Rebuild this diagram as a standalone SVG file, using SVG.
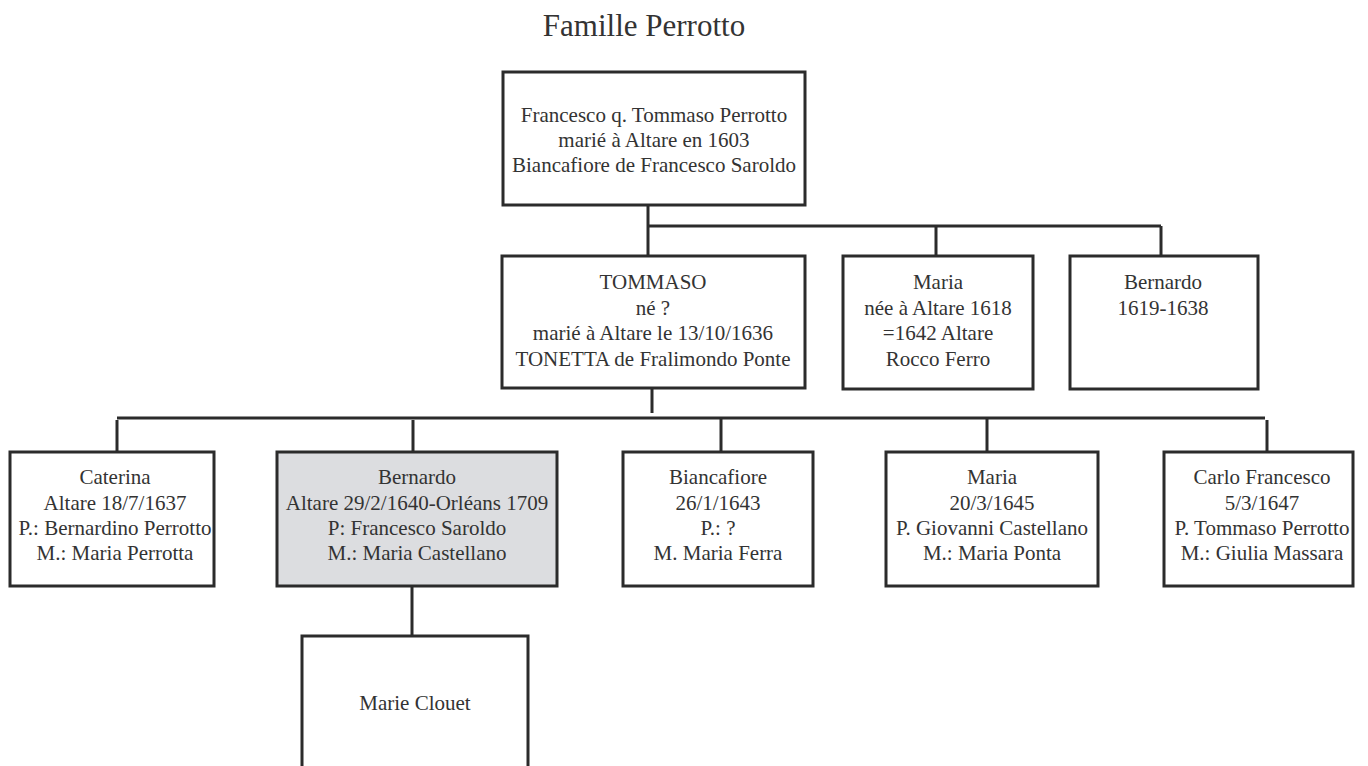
<svg xmlns="http://www.w3.org/2000/svg" width="1368" height="766" viewBox="0 0 1368 766">
<style>
.box{fill:#ffffff;stroke:#2b2b2b;stroke-width:3}
.hl{fill:#dcdde0}
.t{font-family:"Liberation Serif","Times New Roman",serif;font-size:21px;fill:#333333;text-anchor:middle}
.title{font-family:"Liberation Serif","Times New Roman",serif;font-size:31px;fill:#333333;text-anchor:middle}
.c{stroke:#2b2b2b;stroke-width:3;fill:none}
</style>
<rect width="1368" height="766" fill="#ffffff"/>
<text class="title" x="644" y="36">Famille Perrotto</text>
<g id="connectors">
<line class="c" x1="648" y1="205" x2="648" y2="256"/>
<line class="c" x1="648" y1="226" x2="1161" y2="226"/>
<line class="c" x1="936" y1="226" x2="936" y2="256"/>
<line class="c" x1="1161" y1="226" x2="1161" y2="256"/>
<line class="c" x1="652" y1="388" x2="652" y2="413"/>
<line class="c" x1="117" y1="418" x2="1265" y2="418"/>
<line class="c" x1="117" y1="420" x2="117" y2="452"/>
<line class="c" x1="413" y1="420" x2="413" y2="452"/>
<line class="c" x1="721" y1="418" x2="721" y2="452"/>
<line class="c" x1="987" y1="418" x2="987" y2="452"/>
<line class="c" x1="1267" y1="420" x2="1267" y2="452"/>
<line class="c" x1="412" y1="585" x2="412" y2="636"/>
</g>
<g id="francesco">
<rect class="box" x="503" y="72" width="302" height="133"/>
<text class="t" x="654" y="122">Francesco q. Tommaso Perrotto</text>
<text class="t" x="654" y="147">marié à Altare en 1603</text>
<text class="t" x="654" y="172">Biancafiore de Francesco Saroldo</text>
</g>
<g id="tommaso">
<rect class="box" x="502" y="256" width="303" height="132"/>
<text class="t" x="653" y="289">TOMMASO</text>
<text class="t" x="653" y="315">né ?</text>
<text class="t" x="653" y="340">marié à Altare le 13/10/1636</text>
<text class="t" x="653" y="366">TONETTA de Fralimondo Ponte</text>
</g>
<g id="maria1">
<rect class="box" x="843" y="256" width="190" height="133"/>
<text class="t" x="938" y="289">Maria</text>
<text class="t" x="938" y="315">née à Altare 1618</text>
<text class="t" x="938" y="340">=1642 Altare</text>
<text class="t" x="938" y="366">Rocco Ferro</text>
</g>
<g id="bernardo1">
<rect class="box" x="1070" y="256" width="188" height="133"/>
<text class="t" x="1163" y="289">Bernardo</text>
<text class="t" x="1163" y="315">1619-1638</text>
</g>
<g id="caterina">
<rect class="box" x="10" y="452" width="204" height="134"/>
<text class="t" x="115" y="484">Caterina</text>
<text class="t" x="115" y="510">Altare 18/7/1637</text>
<text class="t" x="115" y="535">P.: Bernardino Perrotto</text>
<text class="t" x="115" y="560">M.: Maria Perrotta</text>
</g>
<g id="bernardo2">
<rect class="box hl" x="277" y="452" width="280" height="134"/>
<text class="t" x="417" y="484">Bernardo</text>
<text class="t" x="417" y="510">Altare 29/2/1640-Orléans 1709</text>
<text class="t" x="417" y="535">P: Francesco Saroldo</text>
<text class="t" x="417" y="560">M.: Maria Castellano</text>
</g>
<g id="biancafiore">
<rect class="box" x="623" y="452" width="190" height="134"/>
<text class="t" x="718" y="484">Biancafiore</text>
<text class="t" x="718" y="510">26/1/1643</text>
<text class="t" x="718" y="535">P.: ?</text>
<text class="t" x="718" y="560">M. Maria Ferra</text>
</g>
<g id="maria2">
<rect class="box" x="886" y="452" width="212" height="134"/>
<text class="t" x="992" y="484">Maria</text>
<text class="t" x="992" y="510">20/3/1645</text>
<text class="t" x="992" y="535">P. Giovanni Castellano</text>
<text class="t" x="992" y="560">M.: Maria Ponta</text>
</g>
<g id="carlo">
<rect class="box" x="1164" y="452" width="189" height="134"/>
<text class="t" x="1262" y="484">Carlo Francesco</text>
<text class="t" x="1262" y="510">5/3/1647</text>
<text class="t" x="1262" y="535">P. Tommaso Perrotto</text>
<text class="t" x="1262" y="560">M.: Giulia Massara</text>
</g>
<g id="marie">
<rect class="box" x="302" y="636" width="226" height="140"/>
<text class="t" x="415" y="710">Marie Clouet</text>
</g>
</svg>
